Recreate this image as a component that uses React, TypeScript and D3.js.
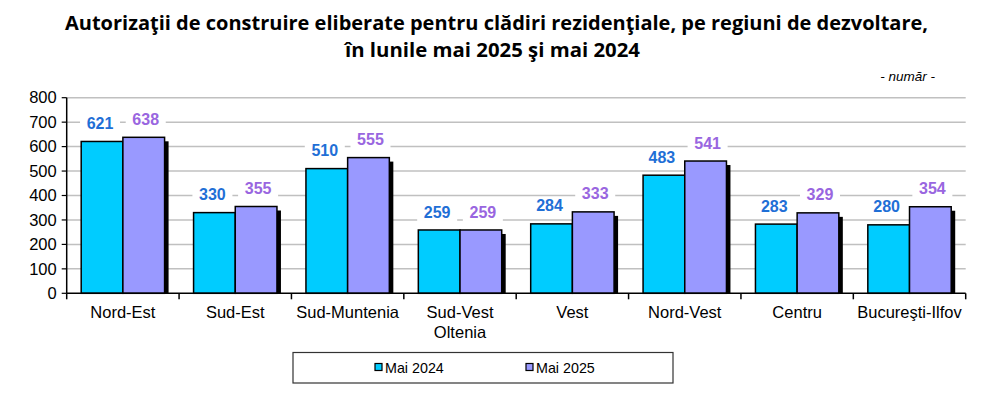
import React from 'react';
import * as d3 from 'd3';

const regions = ['Nord-Est', 'Sud-Est', 'Sud-Muntenia', 'Sud-Vest\nOltenia', 'Vest', 'Nord-Vest', 'Centru', 'Bucureşti-Ilfov'];
const may2024 = [621, 330, 510, 259, 284, 483, 283, 280];
const may2025 = [638, 355, 555, 259, 333, 541, 329, 354];
const yTicks = [0, 100, 200, 300, 400, 500, 600, 700, 800];

const width = 993;
const height = 393;
const margin = { top: 97.7, right: 27.3, bottom: 99.7, left: 66.7 };
const innerW = width - margin.left - margin.right;
const innerH = height - margin.top - margin.bottom;

const cyan = '#00CCFF';
const purple = '#9999FF';
const blueText = '#1F6FD6';
const purpleText = '#9966E0';

const App: React.FC = () => {
  const x = d3.scaleBand<number>()
    .domain(d3.range(regions.length))
    .range([0, innerW]);
  const y = d3.scaleLinear().domain([0, 800]).range([innerH, 0]);
  const barW = x.bandwidth() * 0.371;

  const series = [
    { values: may2024, fill: cyan, text: blueText, offset: -barW },
    { values: may2025, fill: purple, text: purpleText, offset: 0 },
  ];

  return (
    <svg width={width} height={height} style={{ position: 'absolute', left: 0, top: 0, background: '#fff' }}>
      <g fontFamily="'Open Sans', Lato, sans-serif" fontWeight="bold" fontSize={19.5} textAnchor="middle" fill="#000">
        <text x={496.5} y={30} textLength={863} lengthAdjust="spacingAndGlyphs">Autorizaţii de construire eliberate pentru clădiri rezidenţiale, pe regiuni de dezvoltare,</text>
        <text x={492.5} y={57} textLength={295} lengthAdjust="spacingAndGlyphs">în lunile mai 2025 şi mai 2024</text>
      </g>
      <text x={935} y={81} fontFamily="Liberation Sans, Arial, sans-serif" fontStyle="italic" fontSize={13.5} textAnchor="end">- număr -</text>

      <g transform={`translate(${margin.left},${margin.top})`} fontFamily="Liberation Sans, Arial, sans-serif">
        {/* grid */}
        {yTicks.slice(1).map(t => (
          <line key={t} x1={0} x2={innerW} y1={y(t)} y2={y(t)} stroke="#C0C0C0" strokeWidth={1.5} />
        ))}
        {/* y axis */}
        <line x1={0} x2={0} y1={0} y2={innerH} stroke="#000" strokeWidth={1.5} />
        {yTicks.map(t => (
          <g key={t}>
            <line x1={-5} x2={0} y1={y(t)} y2={y(t)} stroke="#000" strokeWidth={1.2} />
            <text x={-10} y={y(t)} dy="0.35em" fontSize={16.5} textAnchor="end">{t}</text>
          </g>
        ))}

        {/* bars */}
        {regions.map((r, i) => {
          const cx = x(i)! + x.bandwidth() / 2;
          return (
            <g key={r}>
              {series.map((s, k) => (
                <rect key={'s' + k} x={cx + s.offset + 4} y={y(s.values[i]) + 4} width={barW} height={innerH - y(s.values[i]) - 4} fill="#000" />
              ))}
              {series.map((s, k) => (
                <rect key={'b' + k} x={cx + s.offset} y={y(s.values[i])} width={barW} height={innerH - y(s.values[i])} fill={s.fill} stroke="#000" strokeWidth={1.5} />
              ))}
            </g>
          );
        })}

        {/* value labels */}
        {regions.map((r, i) => {
          const cx = x(i)! + x.bandwidth() / 2;
          return series.map((s, k) => {
            const lx = cx + s.offset + barW / 2 + (k === 0 ? -2 : 2);
            const ly = y(s.values[i]) - 18;
            return (
              <g key={r + k}>
                <rect x={lx - 20} y={ly - 9} width={40} height={18} fill="#fff" />
                <text x={lx} y={ly} dy="0.35em" fontSize={16} fontWeight="bold" textAnchor="middle" fill={s.text}>{s.values[i]}</text>
              </g>
            );
          });
        })}

        {/* x axis */}
        <line x1={0} x2={innerW} y1={innerH} y2={innerH} stroke="#000" strokeWidth={1.5} />
        {d3.range(regions.length + 1).map(i => {
          const tx = i < regions.length ? x(i)! : innerW;
          return <line key={i} x1={tx} x2={tx} y1={innerH} y2={innerH + 6} stroke="#000" strokeWidth={1.5} />;
        })}
        {regions.map((r, i) => (
          <text key={r} x={x(i)! + x.bandwidth() / 2} y={innerH + 25} fontSize={16.5} textAnchor="middle">
            {r.split('\n').map((line, j) => (
              <tspan key={j} x={x(i)! + x.bandwidth() / 2} dy={j === 0 ? 0 : 20}>{line}</tspan>
            ))}
          </text>
        ))}
      </g>

      {/* legend */}
      <g fontFamily="Liberation Sans, Arial, sans-serif" fontSize={14.3}>
        <rect x={293} y={352.5} width={380} height={30.5} fill="#fff" stroke="#333" strokeWidth={1.2} />
        {[{ label: 'Mai 2024', fill: cyan, x: 375 }, { label: 'Mai 2025', fill: purple, x: 526 }].map(l => (
          <g key={l.label}>
            <rect x={l.x} y={363.5} width={7} height={7} fill={l.fill} stroke="#000" strokeWidth={1.2} />
            <text x={l.x + 10} y={372.5}>{l.label}</text>
          </g>
        ))}
      </g>
    </svg>
  );
};

export default App;
